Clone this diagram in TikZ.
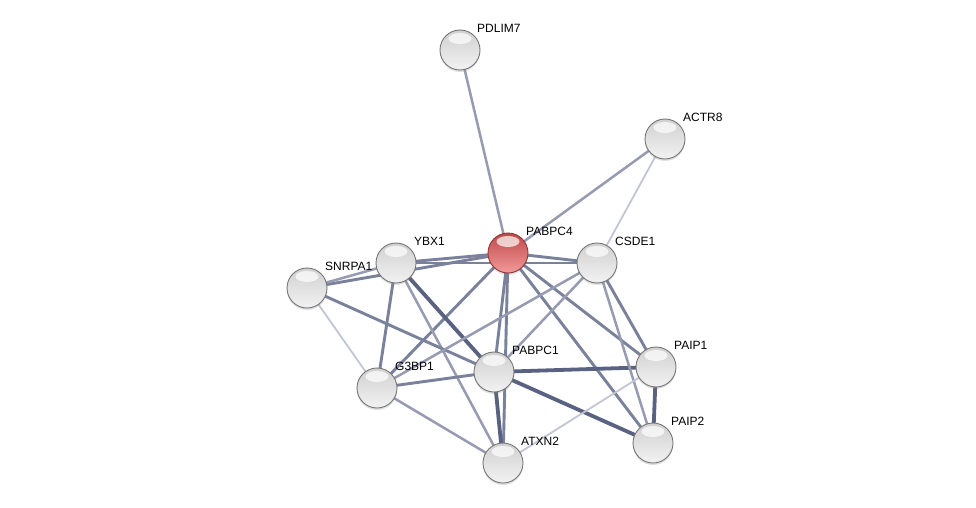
\documentclass[tikz,border=0pt]{standalone}
\usepackage{fontspec}
\setmainfont{Liberation Sans}
\usetikzlibrary{backgrounds,shadows}
\definecolor{ethick}{HTML}{5A6282}
\definecolor{emed}{HTML}{7A819B}
\definecolor{elite}{HTML}{969BB1}
\definecolor{ethin}{HTML}{C2C5D3}
\definecolor{balledge}{HTML}{767676}
\definecolor{gtop}{HTML}{D0D0D0}
\definecolor{gmid}{HTML}{B2B2B2}
\definecolor{gbot}{HTML}{F2F2F2}
\definecolor{rtop}{HTML}{C04848}
\definecolor{rmid}{HTML}{C85858}
\definecolor{rbot}{HTML}{F29A9A}
\definecolor{redge}{HTML}{8A3A3A}
\tikzset{
  ball/.style={circle, minimum size=40pt, inner sep=0pt, draw=balledge, line width=0.9pt,
    top color=gtop, middle color=gmid, bottom color=gbot,
    drop shadow={opacity=0.25, shadow xshift=0pt, shadow yshift=-2pt},
    path picture={\fill[white,opacity=0.7] (path picture bounding box.center) ++(0pt,11.5pt) ellipse (11.5pt and 5.5pt);}},
  redball/.style={ball, draw=redge, top color=rtop, middle color=rmid, bottom color=rbot},
  lab/.style={anchor=west, inner sep=0pt, font=\fontsize{12}{13}\selectfont},
  ethk/.style={draw=ethick, line width=3.8pt},
  emd/.style={draw=emed, line width=2.9pt},
  elt/.style={draw=elite, line width=2.5pt},
  etn/.style={draw=ethin, line width=1.8pt},
}
\begin{document}
\begin{tikzpicture}[x=1pt,y=-1pt]
\useasboundingbox (0,0) rectangle (976,508);
% nodes
\node[ball] (PDLIM7) at (460,50) {};
\node[ball] (ACTR8) at (665,139) {};
\node[redball] (PABPC4) at (508,253) {};
\node[ball] (CSDE1) at (597,263) {};
\node[ball] (YBX1) at (396,263) {};
\node[ball] (SNRPA1) at (307,288) {};
\node[ball] (G3BP1) at (377,388) {};
\node[ball] (PABPC1) at (494,372) {};
\node[ball] (PAIP1) at (656,367) {};
\node[ball] (PAIP2) at (653,443) {};
\node[ball] (ATXN2) at (503,463) {};
% labels
\node[lab] (lPDLIM7) at (477,28) {PDLIM7};
\node[lab] (lACTR8) at (683,117) {ACTR8};
\node[lab] (lPABPC4) at (526,231) {PABPC4};
\node[lab] (lCSDE1) at (615,241) {CSDE1};
\node[lab] (lYBX1) at (414,241) {YBX1};
\node[lab] (lSNRPA1) at (325,266) {SNRPA1};
\node[lab] (lG3BP1) at (395,366) {G3BP1};
\node[lab] (lPABPC1) at (512,350) {PABPC1};
\node[lab] (lPAIP1) at (674,345) {PAIP1};
\node[lab] (lPAIP2) at (671,421) {PAIP2};
\node[lab] (lATXN2) at (521,441) {ATXN2};
% edges
\begin{scope}[on background layer]
\fill[white] (0,0) rectangle (976,508);
\draw[elt] (PDLIM7.center) -- (PABPC4.center);
\draw[elt] (ACTR8.center) -- (PABPC4.center);
\draw[etn] (ACTR8.center) -- (CSDE1.center);
\draw[emd] (PABPC4.center) -- (CSDE1.center);
\draw[emd] (PABPC4.center) -- (YBX1.center);
\draw[emd] (PABPC4.center) -- (SNRPA1.center);
\draw[emd] (PABPC4.center) -- (G3BP1.center);
\draw[emd] (PABPC4.center) -- (PABPC1.center);
\draw[emd] (PABPC4.center) -- (ATXN2.center);
\draw[emd] (PABPC4.center) -- (PAIP1.center);
\draw[emd] (PABPC4.center) -- (PAIP2.center);
\draw[elt] (YBX1.center) -- (SNRPA1.center);
\draw[emd] (YBX1.center) -- (CSDE1.center);
\draw[emd] (YBX1.center) -- (G3BP1.center);
\draw[ethk] (YBX1.center) -- (PABPC1.center);
\draw[elt] (YBX1.center) -- (ATXN2.center);
\draw[etn] (SNRPA1.center) -- (G3BP1.center);
\draw[emd] (SNRPA1.center) -- (PABPC1.center);
\draw[emd] (G3BP1.center) -- (PABPC1.center);
\draw[elt] (G3BP1.center) -- (CSDE1.center);
\draw[elt] (G3BP1.center) -- (ATXN2.center);
\draw[elt] (PABPC1.center) -- (CSDE1.center);
\draw[ethk] (PABPC1.center) -- (PAIP1.center);
\draw[ethk] (PABPC1.center) -- (PAIP2.center);
\draw[ethk] (PABPC1.center) -- (ATXN2.center);
\draw[emd] (CSDE1.center) -- (PAIP1.center);
\draw[elt] (CSDE1.center) -- (PAIP2.center);
\draw[ethk] (PAIP1.center) -- (PAIP2.center);
\draw[etn] (PAIP1.center) -- (ATXN2.center);
\end{scope}
\end{tikzpicture}
\end{document}
